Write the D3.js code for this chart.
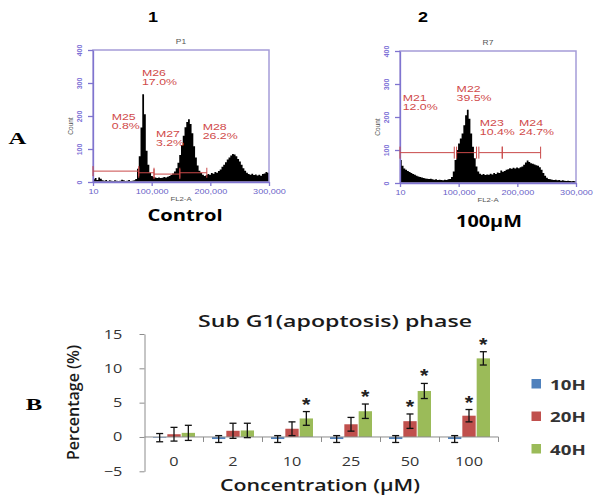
<!DOCTYPE html>
<html>
<head>
<meta charset="utf-8">
<script src="https://cdn.jsdelivr.net/npm/d3@7"></script>
<style>
  body { margin: 0; background: #fff; }
</style>
</head>
<body>
<svg id="fig" width="602" height="501"></svg>
<script>
// ---- flow cytometry histograms: counts per 3000-wide FL2-A bin, 0..300,000
var binWidth = 3000
var ctrlCounts = [
    8, 12, 6, 14, 10, 5, 4, 6, 3, 5,
    4, 3, 5, 4, 3, 4, 7, 5, 3, 4,
    6, 3, 4, 5, 9, 40, 78, 165, 266, 205,
    95, 52, 28, 18, 15, 14, 12, 14, 12, 13,
    15, 14, 16, 18, 21, 26, 32, 42, 58, 82,
    112, 140, 166, 182, 190, 176, 148, 108, 74, 50,
    34, 27, 22, 18, 21, 24, 22, 27, 25, 30,
    28, 33, 38, 46, 52, 60, 68, 74, 80, 85,
    83, 78, 70, 62, 52, 42, 34, 28, 24, 22,
    25, 21, 23, 20, 22, 19, 24, 26, 30, 28
]
var treatCounts = [
    70, 52, 44, 40, 36, 33, 30, 27, 25, 22,
    20, 18, 17, 15, 14, 13, 12, 13, 11, 10,
    11, 9, 10, 9, 8, 10, 9, 11, 12, 18,
    35, 70, 100, 120, 135, 150, 175, 205, 222, 195,
    150, 110, 75, 50, 35, 28, 25, 27, 24, 26,
    25, 28, 26, 30, 27, 32, 30, 38, 34, 36,
    40, 42, 45, 43, 46, 44, 47, 45, 48, 50,
    55, 62, 68, 64, 60, 58, 56, 54, 52, 48,
    40, 30, 22, 16, 12, 11, 10, 9, 10, 8,
    9, 7, 8, 7, 6, 7, 6, 5, 6, 5
]
var histXTicks = [10, 100000, 200000, 300000]
var histXLabels = ["10", "100,000", "200,000", "300,000"]
var histYTicks = [0, 100, 200, 300, 400]

var ctrlGateNames = ["M25", "M26", "M27", "M28"]
var ctrlGatePct = ["0.8%", "17.0%", "3.2%", "26.2%"]
var ctrlGateStart = [0, 78000, 104000, 148000]
var ctrlGateEnd = [78000, 104000, 148000, 194000]
var ctrlGateLevel = [33, 28, 24, 28]

var treatGateNames = ["M21", "M22", "M23", "M24"]
var treatGatePct = ["12.0%", "39.5%", "10.4%", "24.7%"]
var treatGateStart = [0, 96500, 134400, 174300]
var treatGateEnd = [92500, 130500, 174300, 239700]
var treatGateLevel = [92, 92, 92, 92]

// ---- sub G1 bar chart
var concentrations = ["0", "2", "10", "25", "50", "100"]
var seriesNames = ["10H", "20H", "40H"]
var h10 = [-0.1, -0.3, -0.3, -0.3, -0.3, -0.3]
var h10Err = [0.6, 0.5, 0.5, 0.5, 0.5, 0.5]
var h20 = [0.4, 0.9, 1.2, 1.85, 2.3, 3.1]
var h20Err = [1.0, 1.1, 1.0, 1.0, 1.05, 0.9]
var h40 = [0.6, 0.95, 2.7, 3.75, 6.7, 11.45]
var h40Err = [1.1, 1.05, 1.0, 1.05, 1.1, 0.97]
var sig20 = [false, false, false, false, true, true]
var sig40 = [false, false, true, true, true, true]
var barYTicks = [-5, 0, 5, 10, 15]

var svg = d3.select("#fig")
var sans = "Arial, 'Liberation Sans', sans-serif"
var calib = "'Open Sans', 'Noto Sans', sans-serif"

// the source picture is stretched sideways, so text gets a horizontal scale
function label(g, x, y, str, o) {
    return g.append("text")
        .attr("transform", `translate(${x},${y}) scale(${o.sx || 1.3},1)`)
        .attr("text-anchor", o.anchor || "start")
        .attr("font-family", o.font || sans)
        .attr("font-size", o.size)
        .attr("font-weight", o.weight || "normal")
        .attr("fill", o.fill || "#000")
        .text(str)
}

function drawHist(p) {
    var g = svg.append("g")
    var x = d3.scaleLinear().domain([0, 300000]).range([p.left, p.left + p.w])
    var y = d3.scaleLinear().domain([0, 400]).range([p.top + p.h, p.top])

    var pts = p.counts.map((c, i) => [i * binWidth, c])
    pts.push([p.counts.length * binWidth, p.counts[p.counts.length - 1]])
    var area = d3.area()
        .x(d => x(d[0]))
        .y0(y(0))
        .y1(d => y(d[1]))
        .curve(d3.curveStepAfter)
    g.append("path").datum(pts).attr("d", area).attr("fill", "#000")

    g.append("rect")
        .attr("x", p.left).attr("y", p.top)
        .attr("width", p.w).attr("height", p.h)
        .attr("fill", "none").attr("stroke", "#a59cd8").attr("stroke-width", 1.5)

    var xAxis = g.append("g")
        .attr("transform", `translate(0,${y(0)})`)
        .call(d3.axisBottom(x).tickValues(histXTicks)
            .tickFormat((d, i) => histXLabels[i]).tickSize(4).tickSizeOuter(0))
    xAxis.selectAll("text")
        .attr("transform", "scale(1.3,1)")
        .attr("font-size", 7).attr("font-family", sans).attr("fill", "#6a5fc8")
    var yAxis = g.append("g")
        .attr("transform", `translate(${p.left},0)`)
        .call(d3.axisLeft(y).tickValues(histYTicks).tickSize(5).tickSizeOuter(0))
    yAxis.selectAll("text")
        .attr("x", 0).attr("dy", 0)
        .attr("text-anchor", "middle")
        .attr("transform", "translate(-11,0) rotate(-90)")
        .attr("font-size", 7).attr("font-family", sans).attr("font-weight", "bold")
        .attr("fill", "#7b70d6")
    g.selectAll(".domain, .tick line").attr("stroke", "#7f74d0").attr("stroke-width", 1.3)

    // gate markers
    p.gateStart.forEach((s, i) => {
        var yy = y(p.gateLevel[i])
        g.append("line")
            .attr("x1", x(s)).attr("x2", x(p.gateEnd[i]))
            .attr("y1", yy).attr("y2", yy)
            .attr("stroke", "#c94848").attr("stroke-width", 1)
        ;[s, p.gateEnd[i]].forEach(v => {
            g.append("line")
                .attr("x1", x(v)).attr("x2", x(v))
                .attr("y1", yy - p.tick).attr("y2", yy + p.tick)
                .attr("stroke", "#c94848").attr("stroke-width", 1)
        })
        var lp = p.labelPos[i]
        label(g, x(lp[0]), y(lp[1]), p.gateNames[i], {size: 9.5, fill: "#d04a4a", sx: 1.3})
        label(g, x(lp[0]), y(lp[1]) + 9, p.gatePct[i], {size: 9.5, fill: "#d04a4a", sx: 1.3})
    })

    label(g, p.left + p.w / 2, p.top - 6, p.title, {size: 6.5, anchor: "middle", fill: "#555"})
    label(g, p.left + p.w / 2, y(0) + 18.5, "FL2-A", {size: 6, anchor: "middle", fill: "#555"})
    g.append("text")
        .attr("transform", `translate(${p.left - 20},${p.top + 76}) rotate(-90)`)
        .attr("text-anchor", "middle")
        .attr("font-family", sans).attr("font-size", 6.5).attr("fill", "#555")
        .text("Count")
}

drawHist({
    left: 93, top: 50, w: 176, h: 132, tick: 5, title: "P1",
    counts: ctrlCounts,
    gateNames: ctrlGateNames, gatePct: ctrlGatePct,
    gateStart: ctrlGateStart, gateEnd: ctrlGateEnd, gateLevel: ctrlGateLevel,
    labelPos: [[31800, 188], [83500, 321], [107300, 135], [187000, 158]]
})
drawHist({
    left: 400, top: 51, w: 176, h: 132, tick: 6, title: "R7",
    counts: treatCounts,
    gateNames: treatGateNames, gatePct: treatGatePct,
    gateStart: treatGateStart, gateEnd: treatGateEnd, gateLevel: treatGateLevel,
    labelPos: [[4600, 250], [96500, 277], [136000, 172], [203000, 172]]
})

// panel captions
label(svg, 153, 21.5, "1", {size: 15, weight: "bold", anchor: "middle", sx: 1.2})
label(svg, 423, 21.5, "2", {size: 15, weight: "bold", anchor: "middle", sx: 1.2})
label(svg, 185, 221, "Control", {size: 15.5, weight: "bold", anchor: "middle", font: calib, sx: 1.3})
label(svg, 489, 227, "100µM", {size: 15.5, weight: "bold", anchor: "middle", font: calib, sx: 1.28})
label(svg, 17.5, 143.5, "A", {size: 17, weight: "bold", anchor: "middle", font: "'Liberation Serif', 'DejaVu Serif', serif", sx: 1.45})
label(svg, 34, 410, "B", {size: 17, weight: "bold", anchor: "middle", font: "'Liberation Serif', 'DejaVu Serif', serif", sx: 1.45})

// ---- bar chart
var bc = svg.append("g")
var xBand = d3.scaleBand().domain(concentrations).range([144.5, 498.5])
var ySc = d3.scaleLinear().domain([-5, 15]).range([471.3, 334])
var sub = d3.scaleBand().domain(seriesNames).range([-21, 21]).paddingInner(0.07)
var colors = {"10H": "#4f81bd", "20H": "#c0504d", "40H": "#9bbb59"}

var series = [
    {name: "10H", vals: h10, errs: h10Err, sig: null},
    {name: "20H", vals: h20, errs: h20Err, sig: sig20},
    {name: "40H", vals: h40, errs: h40Err, sig: sig40}
]

var yAxis = bc.append("g")
    .attr("transform", "translate(144.5,0)")
    .call(d3.axisLeft(ySc).tickValues(barYTicks).tickSize(5).tickSizeOuter(0).tickPadding(0))
yAxis.selectAll("text")
    .attr("x", -17).attr("transform", "scale(1.3,1)")
    .attr("font-family", calib).attr("font-size", 12.5).attr("fill", "#333")
yAxis.selectAll(".domain, .tick line").attr("stroke", "#8c8c8c")

series.forEach(s => {
    var cx = c => xBand(c) + xBand.bandwidth() / 2 + sub(s.name) + sub.bandwidth() / 2
    bc.append("g").selectAll("rect")
        .data(concentrations)
        .enter()
        .append("rect")
        .attr("x", c => cx(c) - sub.bandwidth() / 2)
        .attr("width", sub.bandwidth())
        .attr("y", (c, i) => ySc(Math.max(0, s.vals[i])))
        .attr("height", (c, i) => Math.abs(ySc(s.vals[i]) - ySc(0)))
        .attr("fill", colors[s.name])
})

// zero line with category dividers
bc.append("line")
    .attr("x1", xBand.range()[0]).attr("x2", xBand.range()[1])
    .attr("y1", ySc(0)).attr("y2", ySc(0))
    .attr("stroke", "#8c8c8c")
bc.append("g").selectAll("line")
    .data(concentrations.map(c => xBand(c) + xBand.step()))
    .enter()
    .append("line")
    .attr("x1", d => d).attr("x2", d => d)
    .attr("y1", ySc(0)).attr("y2", ySc(0) + 5)
    .attr("stroke", "#8c8c8c")

var xAxis = bc.append("g")
    .attr("transform", `translate(0,${ySc(0)})`)
    .call(d3.axisBottom(xBand).tickSize(0).tickPadding(20))
xAxis.select(".domain").remove()
xAxis.selectAll("text")
    .attr("transform", "scale(1.3,1)")
    .attr("font-family", calib).attr("font-size", 12.5).attr("fill", "#333")

// error bars and stars
series.forEach(s => {
    var cx = c => xBand(c) + xBand.bandwidth() / 2 + sub(s.name) + sub.bandwidth() / 2
    concentrations.forEach((c, i) => {
        var top = ySc(s.vals[i] + s.errs[i])
        var bot = ySc(s.vals[i] - s.errs[i])
        var eg = bc.append("g").attr("stroke", "#111").attr("stroke-width", 1.3)
        eg.append("line").attr("x1", cx(c)).attr("x2", cx(c)).attr("y1", top).attr("y2", bot)
        eg.append("line").attr("x1", cx(c) - 3.5).attr("x2", cx(c) + 3.5).attr("y1", top).attr("y2", top)
        eg.append("line").attr("x1", cx(c) - 3.5).attr("x2", cx(c) + 3.5).attr("y1", bot).attr("y2", bot)
        if (s.sig && s.sig[i]) {
            label(bc, cx(c), top - 1, "*", {size: 18, weight: "bold", anchor: "middle", fill: "#222", sx: 1.2})
        }
    })
})

bc.append("text")
    .attr("x", 335).attr("y", 327)
    .attr("text-anchor", "middle")
    .attr("font-family", calib).attr("font-size", 16.5).attr("font-weight", 600)
    .attr("fill", "#1a1a1a")
    .attr("textLength", 274).attr("lengthAdjust", "spacingAndGlyphs")
    .text("Sub G1(apoptosis) phase")
bc.append("text")
    .attr("x", 320).attr("y", 490.5)
    .attr("text-anchor", "middle")
    .attr("font-family", calib).attr("font-size", 15.5).attr("font-weight", 600)
    .attr("fill", "#1a1a1a")
    .attr("textLength", 200).attr("lengthAdjust", "spacingAndGlyphs")
    .text("Concentration (µM)")
bc.append("text")
    .attr("transform", "translate(79,402.5) rotate(-90)")
    .attr("text-anchor", "middle")
    .attr("font-family", calib).attr("font-size", 15.5).attr("font-weight", 600)
    .attr("fill", "#1a1a1a")
    .attr("textLength", 115).attr("lengthAdjust", "spacingAndGlyphs")
    .text("Percentage (%)")

// legend
var lg = bc.append("g")
seriesNames.forEach((n, i) => {
    var ly = 383.5 + i * 32.5
    lg.append("rect")
        .attr("x", 531.5).attr("y", ly - 4.5)
        .attr("width", 9.5).attr("height", 9.5)
        .attr("fill", colors[n])
    label(lg, 550, ly + 6, n, {size: 15, weight: "bold", font: calib, fill: "#333", sx: 1.25})
})
</script>
</body>
</html>
